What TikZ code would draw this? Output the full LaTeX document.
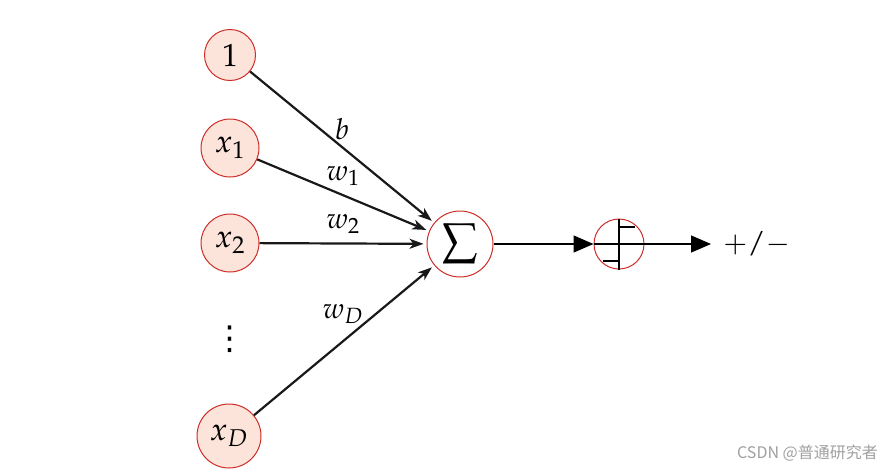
\documentclass[tikz,border=0pt]{standalone}
\usepackage{mathpazo}
\usepackage{fontspec}
\newfontfamily\cjk{Noto Sans CJK SC}
\newfontfamily\dejavu{DejaVu Sans}
\usetikzlibrary{arrows.meta}
\definecolor{nodered}{RGB}{205,45,40}
\definecolor{nodefill}{RGB}{253,228,218}
\begin{document}
\begin{tikzpicture}[x=1pt,y=-1pt,
  innode/.style={circle,draw=nodered,fill=nodefill,line width=1pt,inner sep=0pt,font=\fontsize{32}{38}\selectfont},
  opnode/.style={circle,draw=nodered,line width=1pt,inner sep=0pt,font=\fontsize{32}{38}\selectfont},
  inarrow/.style={line width=2.2pt,draw={rgb,255:red,25;green,25;blue,25},-{Stealth[length=14pt,width=10pt,inset=4pt]},shorten >=3pt},
  outarrow/.style={line width=1.3pt,-{Triangle[length=20pt,width=17pt]}},
  wlabel/.style={font=\fontsize{29}{34}\selectfont,inner sep=0pt},
  stepline/.style={line width=2.2pt}]
\useasboundingbox (0,0) rectangle (892,472);
\node[innode,minimum size=51pt] (one) at (230,55) {$1$};
\node[innode,minimum size=58pt] (x1) at (230,148) {$x_1$};
\node[innode,minimum size=58pt] (x2) at (230,243) {$x_2$};
\node[inner sep=0pt,font=\dejavu\fontsize{33}{40}\selectfont] (dots) at (230,339) {⋮};
\node[innode,minimum size=64pt] (xD) at (229,436) {$x_D$};
\node[opnode,minimum size=66pt] (sum) at (460,244) {$\displaystyle\sum$};
\node[opnode,minimum size=50pt] (step) at (619,244) {};
\draw[stepline] (step.north) -- (step.south);
\draw[stepline] ([xshift=-16pt,yshift=-17pt]step.center) -- ([yshift=-17pt]step.center);
\draw[stepline] ([yshift=17pt]step.center) -- ([xshift=16pt,yshift=17pt]step.center);
\node[font=\fontsize{29}{36}\selectfont,anchor=west,inner sep=0pt] (res) at (723,244) {${+}/{-}$};
\coordinate (tip) at (711,244);
\draw[inarrow] (one) -- (sum);
\draw[inarrow] (x1) -- (sum);
\draw[inarrow] (x2) -- (sum);
\draw[inarrow] (xD) -- (sum);
\draw[outarrow] (sum) -- (step.west);
\draw[outarrow] (step.west) -- (tip);
\node[wlabel] (lb) at (342,129) {$b$};
\node[wlabel] (lw1) at (343,176) {$w_1$};
\node[wlabel] (lw2) at (343,224) {$w_2$};
\node[wlabel] (lwD) at (343,314) {$w_D$};
\node[font=\cjk\fontsize{16}{19}\selectfont,text={rgb,255:red,160;green,160;blue,160},anchor=east,inner sep=0pt] (wm) at (878,453) {CSDN @普通研究者};
\end{tikzpicture}
\end{document}
